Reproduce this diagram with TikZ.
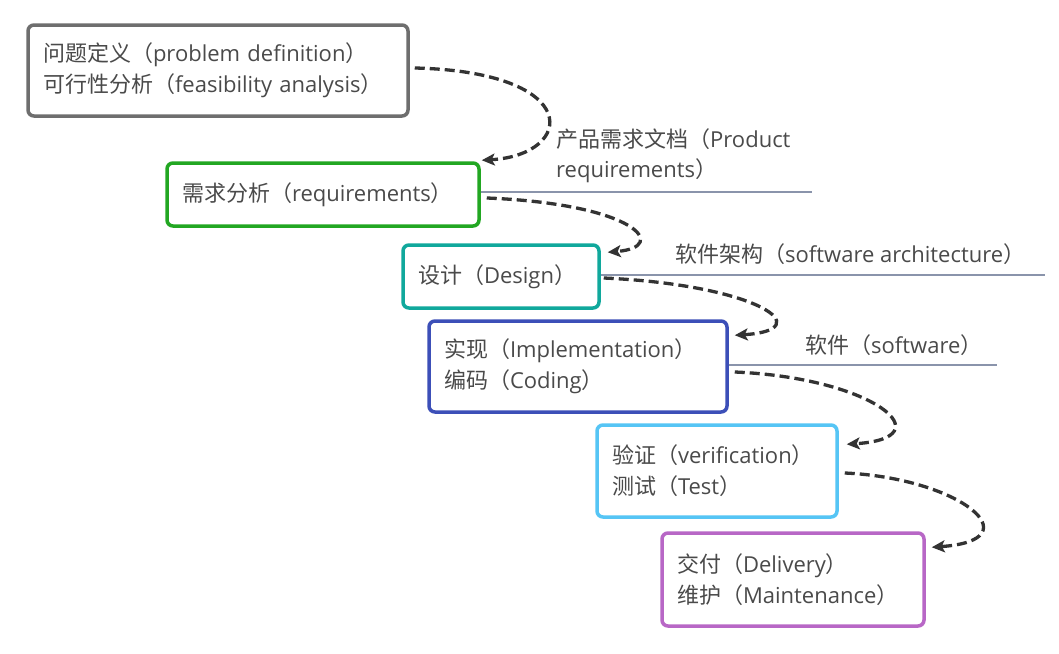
\documentclass[tikz,border=0pt]{standalone}
\usepackage{fontspec}
\setmainfont{Open Sans}
\newfontfamily\cjk{Noto Sans CJK SC}
\usetikzlibrary{arrows.meta,calc}
\definecolor{txt}{HTML}{4A4A4A}
\definecolor{arrowc}{HTML}{333333}
\definecolor{linec}{HTML}{8A94AB}
\definecolor{cgray}{HTML}{6E6E6E}
\definecolor{cgreen}{HTML}{22A722}
\definecolor{cteal}{HTML}{10A89C}
\definecolor{cblue}{HTML}{3C4FB8}
\definecolor{clight}{HTML}{56C5F5}
\definecolor{cpurple}{HTML}{B867C6}
\newcommand\zhs[1]{{\cjk #1}}
\begin{document}
\begin{tikzpicture}[x=1pt,y=-1pt,
  stage/.style={draw=#1, line width=3.5pt, rounded corners=6pt, fill=white,
    inner xsep=15pt, inner ysep=0pt, align=left,
    font=\fontsize{22}{31}\selectfont, text=txt},
  flow/.style={draw=arrowc, line width=3.3pt, dash pattern=on 10pt off 5pt,
    -{Stealth[length=13pt,width=12pt,inset=3pt]}},
  tag/.style={draw=linec, line width=1.5pt},
  lbl/.style={anchor=west, inner sep=0pt, align=left,
    font=\fontsize{22}{30}\selectfont, text=txt}]
\fill[white] (0,0) rectangle (1059,653);
\useasboundingbox (0,0) rectangle (1059,653);

\node[stage=cgray, minimum width=380pt, minimum height=91pt, text width=350pt] (b1) at (218,70.5)
  {\zhs{问题定义（}problem definition\zhs{）}\\\zhs{可行性分析（}feasibility analysis\zhs{）}};
\node[stage=cgreen, minimum width=312pt, minimum height=63pt, text width=282pt] (b2) at (323,194.5)
  {\zhs{需求分析（}requirements\zhs{）}};
\node[stage=cteal, minimum width=196pt, minimum height=63pt, text width=166pt] (b3) at (501,276.5)
  {\zhs{设计（}Design\zhs{）}};
\node[stage=cblue, minimum width=298pt, minimum height=91pt, text width=268pt] (b4) at (578,366.5)
  {\zhs{实现（}Implementation\zhs{）}\\\zhs{编码（}Coding\zhs{）}};
\node[stage=clight, minimum width=240pt, minimum height=92pt, text width=210pt] (b5) at (717,471)
  {\zhs{验证（}verification\zhs{）}\\\zhs{测试（}Test\zhs{）}};
\node[stage=cpurple, minimum width=262pt, minimum height=93pt, text width=232pt] (b6) at (793,579.5)
  {\zhs{交付（}Delivery\zhs{）}\\\zhs{维护（}Maintenance\zhs{）}};

% tag lines and labels
\coordinate (t1) at (812,192);
\coordinate (t2) at (1045,275);
\coordinate (t3) at (997,365);
\draw[tag] (b2.east |- t1) -- (t1);
\draw[tag] (b3.east |- t2) -- (t2);
\draw[tag] (b4.east |- t3) -- (t3);
\node[lbl] (l1) at (556,156) {\zhs{产品需求文档（}Product\\requirements\zhs{）}};
\node[lbl] (l2) at (675,254) {\zhs{软件架构（}software architecture\zhs{）}};
\node[lbl] (l3) at (805,345) {\zhs{软件（}software\zhs{）}};

% flow arrows
\draw[flow] ($(b1.east)+(5,-2.5)$) .. controls (585,72) and (575,155) .. ($(b2.north east)+(1,-1)$);
\draw[flow] ($(b2.east)+(6,3.5)$) .. controls (637,204) and (670,247) .. ($(b3.north east)+(7,9)$);
\draw[flow] ($(b3.east)+(3,1.5)$) .. controls (760,285) and (820,330) .. ($(b4.north east)+(6,16)$);
\draw[flow] ($(b4.east)+(6,5.5)$) .. controls (875,378) and (945,438) .. ($(b5.north east)+(8,21)$);
\draw[flow] ($(b5.east)+(6,2)$) .. controls (960,478) and (1035,540) .. ($(b6.north east)+(6,16)$);
\end{tikzpicture}
\end{document}
